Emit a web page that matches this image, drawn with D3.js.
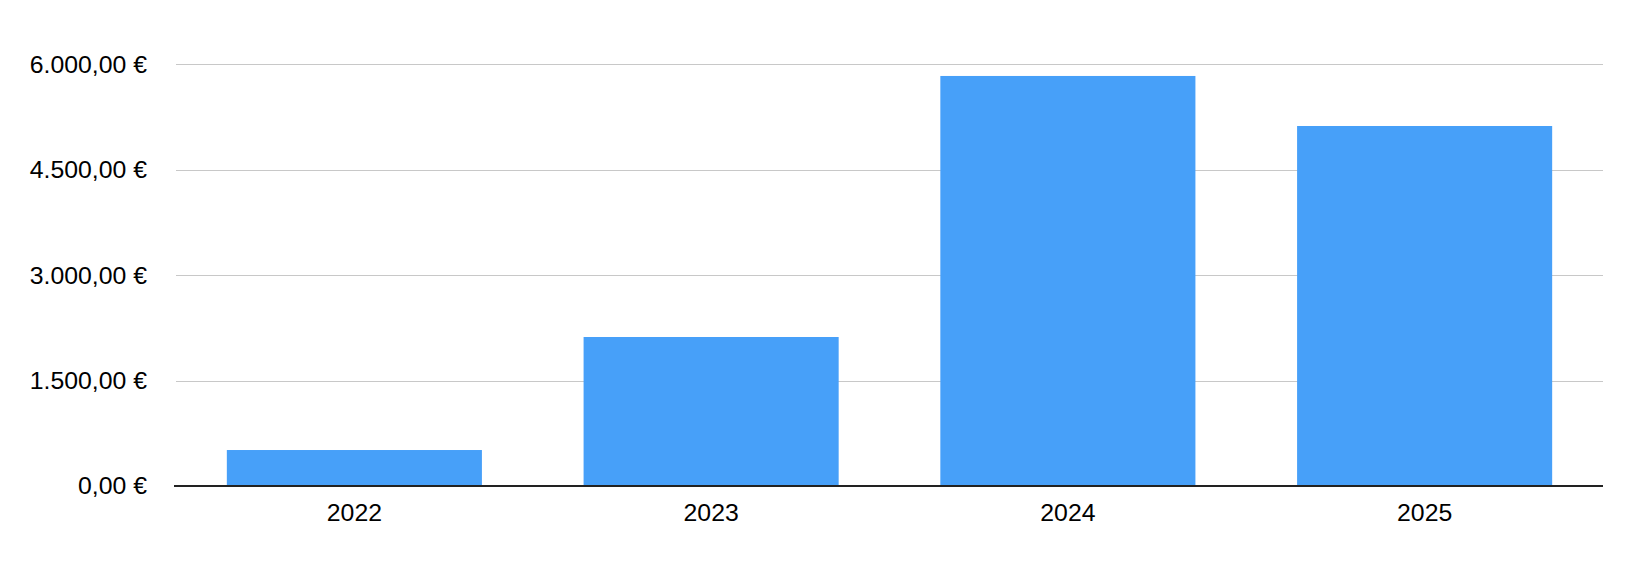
<!DOCTYPE html>
<html>
<head>
<meta charset="utf-8">
<script src="https://cdn.jsdelivr.net/npm/d3@7"></script>
<style>
  html, body { margin: 0; padding: 0; background: #fff; }
  svg { display: block; }
  text { font-family: "Liberation Sans", Arial, Helvetica, sans-serif; fill: #000; }
</style>
</head>
<body>
<svg id="chart" width="1632" height="566"></svg>
<script>
const categories = ["2022", "2023", "2024", "2025"];
const values = [512, 2120, 5834, 5122];
const yTicks = [0, 1500, 3000, 4500, 6000];

const W = 1632, H = 566;
const margin = { left: 176, right: 29, top: 64.3, bottom: 80 };
const svg = d3.select("#chart");

const x = d3.scaleBand()
  .domain(categories)
  .range([margin.left, W - margin.right])
  .paddingInner(0.285)
  .paddingOuter(0.1425);

const y = d3.scaleLinear()
  .domain([0, 6000])
  .range([486, margin.top]);

const fmt = v => {
  const s = d3.format(",.2f")(v);
  return s.replace(/,/g, "#").replace(/\./g, ",").replace(/#/g, ".") + " €";
};

const yAxis = d3.axisLeft(y).tickValues(yTicks).tickSize(0).tickFormat(fmt).tickPadding(29);
const gy = svg.append("g").attr("transform", `translate(${margin.left},0)`).call(yAxis);
gy.select(".domain").remove();
gy.selectAll("text").attr("font-size", 24.8).attr("fill", "#000")
  .attr("font-family", "Liberation Sans, Arial, sans-serif");

svg.append("g").selectAll("line")
  .data(yTicks.filter(d => d !== 0))
  .join("line")
  .attr("x1", margin.left).attr("x2", W - margin.right)
  .attr("y1", d => Math.round(y(d)) + 0.5).attr("y2", d => Math.round(y(d)) + 0.5)
  .attr("stroke", "#c8c8c8").attr("stroke-width", 1);

svg.append("g").selectAll("rect")
  .data(categories.map((c, i) => ({ c, v: values[i] })))
  .join("rect")
  .attr("x", d => x(d.c))
  .attr("width", x.bandwidth())
  .attr("y", d => y(d.v))
  .attr("height", d => y(0) - y(d.v))
  .attr("fill", "#47a0f9");

svg.append("line")
  .attr("x1", margin.left - 2).attr("x2", W - margin.right)
  .attr("y1", y(0)).attr("y2", y(0))
  .attr("stroke", "#222").attr("stroke-width", 2);

const xAxis = d3.axisBottom(x).tickSize(0).tickPadding(17);
const gx = svg.append("g").attr("transform", `translate(0,${y(0)})`).call(xAxis);
gx.select(".domain").remove();
gx.selectAll("text").attr("font-size", 24.8).attr("fill", "#000")
  .attr("font-family", "Liberation Sans, Arial, sans-serif");
</script>
</body>
</html>
